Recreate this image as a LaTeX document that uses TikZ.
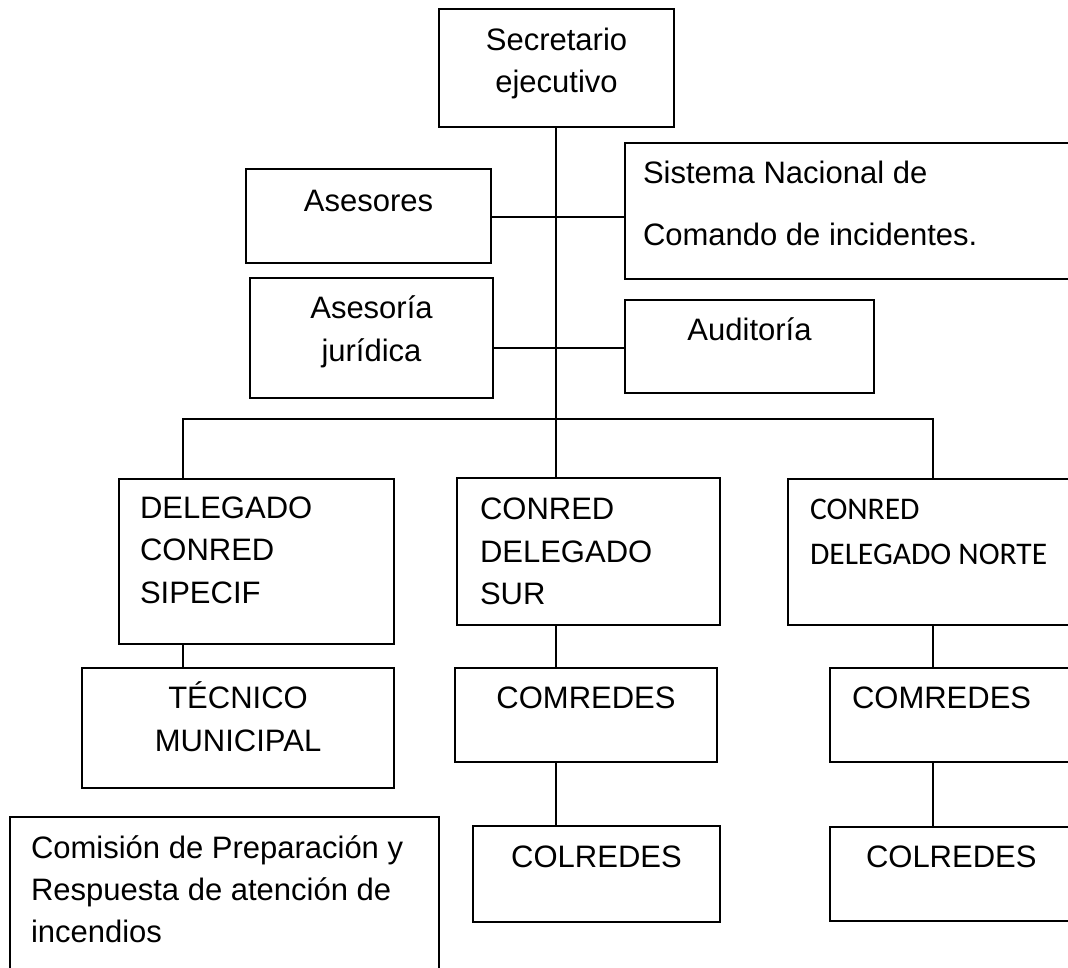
\documentclass[tikz,border=0pt]{standalone}
\usepackage{fontspec}
\setmainfont{Liberation Sans}
\newfontfamily\calib{Carlito}
\begin{document}
\begin{tikzpicture}[x=1pt,y=-1pt,
  box/.style={draw, line width=1.6pt, rectangle, inner sep=0pt, outer sep=0pt, anchor=north west},
  lbl/.style={inner sep=0pt, outer sep=0pt, font=\fontsize{31}{43}\selectfont},
  lblc/.style={lbl, anchor=base},
  lbll/.style={lbl, anchor=base west},
  cal/.style={inner sep=0pt, outer sep=0pt, anchor=base west, font=\calib\fontsize{31.5}{43}\selectfont},
  ln/.style={line width=1.4pt}]
\useasboundingbox (0,0) rectangle (1068,967);
\clip (0,0) rectangle (1068,967);
% boxes
\node[box, minimum width=235pt, minimum height=118pt] (sec) at (439,9) {};
\node[box, minimum width=245pt, minimum height=94pt] (ases) at (246,169) {};
\node[box, minimum width=460pt, minimum height=136pt] (sist) at (625,143) {};
\node[box, minimum width=243pt, minimum height=120pt] (juri) at (250,278) {};
\node[box, minimum width=249pt, minimum height=93pt] (audi) at (625,300) {};
\node[box, minimum width=275pt, minimum height=165pt] (dele) at (119,479) {};
\node[box, minimum width=263pt, minimum height=147pt] (sur) at (457,478) {};
\node[box, minimum width=295pt, minimum height=146pt] (norte) at (788,479) {};
\node[box, minimum width=312pt, minimum height=120pt] (tec) at (82,668) {};
\node[box, minimum width=262pt, minimum height=94pt] (comA) at (455,668) {};
\node[box, minimum width=250pt, minimum height=94pt] (comB) at (830,668) {};
\node[box, minimum width=429pt, minimum height=170pt] (comi) at (10,817) {};
\node[box, minimum width=247pt, minimum height=96pt] (colA) at (473,826) {};
\node[box, minimum width=250pt, minimum height=94pt] (colB) at (830,827) {};
% texts
\node[lblc] (secA) at (556.5,50) {Secretario};
\node[lblc] (secB) at (556.5,92) {ejecutivo};
\node[lblc] (asesT) at (368.5,211) {Asesores};
\node[lbll] (sistA) at (643,183) {Sistema Nacional de};
\node[lbll] (sistB) at (643,245) {Comando de incidentes.};
\node[lblc] (juriA) at (371.5,318) {Asesoría};
\node[lblc] (juriB) at (371.5,361) {jurídica};
\node[lblc] (audiT) at (749.5,340) {Auditoría};
\node[lbll] (deleA) at (140,518) {DELEGADO};
\node[lbll] (deleB) at (140,560) {CONRED};
\node[lbll] (deleC) at (140,603) {SIPECIF};
\node[lbll] (surA) at (480,519) {CONRED};
\node[lbll] (surB) at (480,562) {DELEGADO};
\node[lbll] (surC) at (480,604) {SUR};
\node[cal] (norA) at (810,519) {CONRED};
\node[cal] (norB) at (810,564) {DELEGADO NORTE};
\node[lblc] (tecA) at (238,708) {TÉCNICO};
\node[lblc] (tecB) at (238,751) {MUNICIPAL};
\node[lblc] (comAT) at (586,708) {COMREDES};
\node[lbll] (comBT) at (852,708) {COMREDES};
\node[lblc] (colAT) at (596.5,867) {COLREDES};
\node[lbll] (colBT) at (866,867) {COLREDES};
\node[lbll] (comiA) at (31,858) {Comisión de Preparación y};
\node[lbll] (comiB) at (31,900) {Respuesta de atención de};
\node[lbll] (comiC) at (31,942) {incendios};
% connectors
\coordinate (barL) at (183,419);
\coordinate (barR) at (933,419);
\draw[ln] (sec.south -| 556,0) -- (sur.north -| 556,0);
\draw[ln] (ases.east |- 0,217) -- (sist.west |- 0,217);
\draw[ln] (juri.east |- 0,348) -- (audi.west |- 0,348);
\draw[ln] (dele.north -| barL) -- (barL) -- (barR) -- (norte.north -| barR);
\draw[ln] (dele.south -| barL) -- (tec.north -| barL);
\draw[ln] (sur.south -| 556,0) -- (comA.north -| 556,0);
\draw[ln] (comA.south -| 556,0) -- (colA.north -| 556,0);
\draw[ln] (norte.south -| barR) -- (comB.north -| barR);
\draw[ln] (comB.south -| barR) -- (colB.north -| barR);
\end{tikzpicture}
\end{document}
